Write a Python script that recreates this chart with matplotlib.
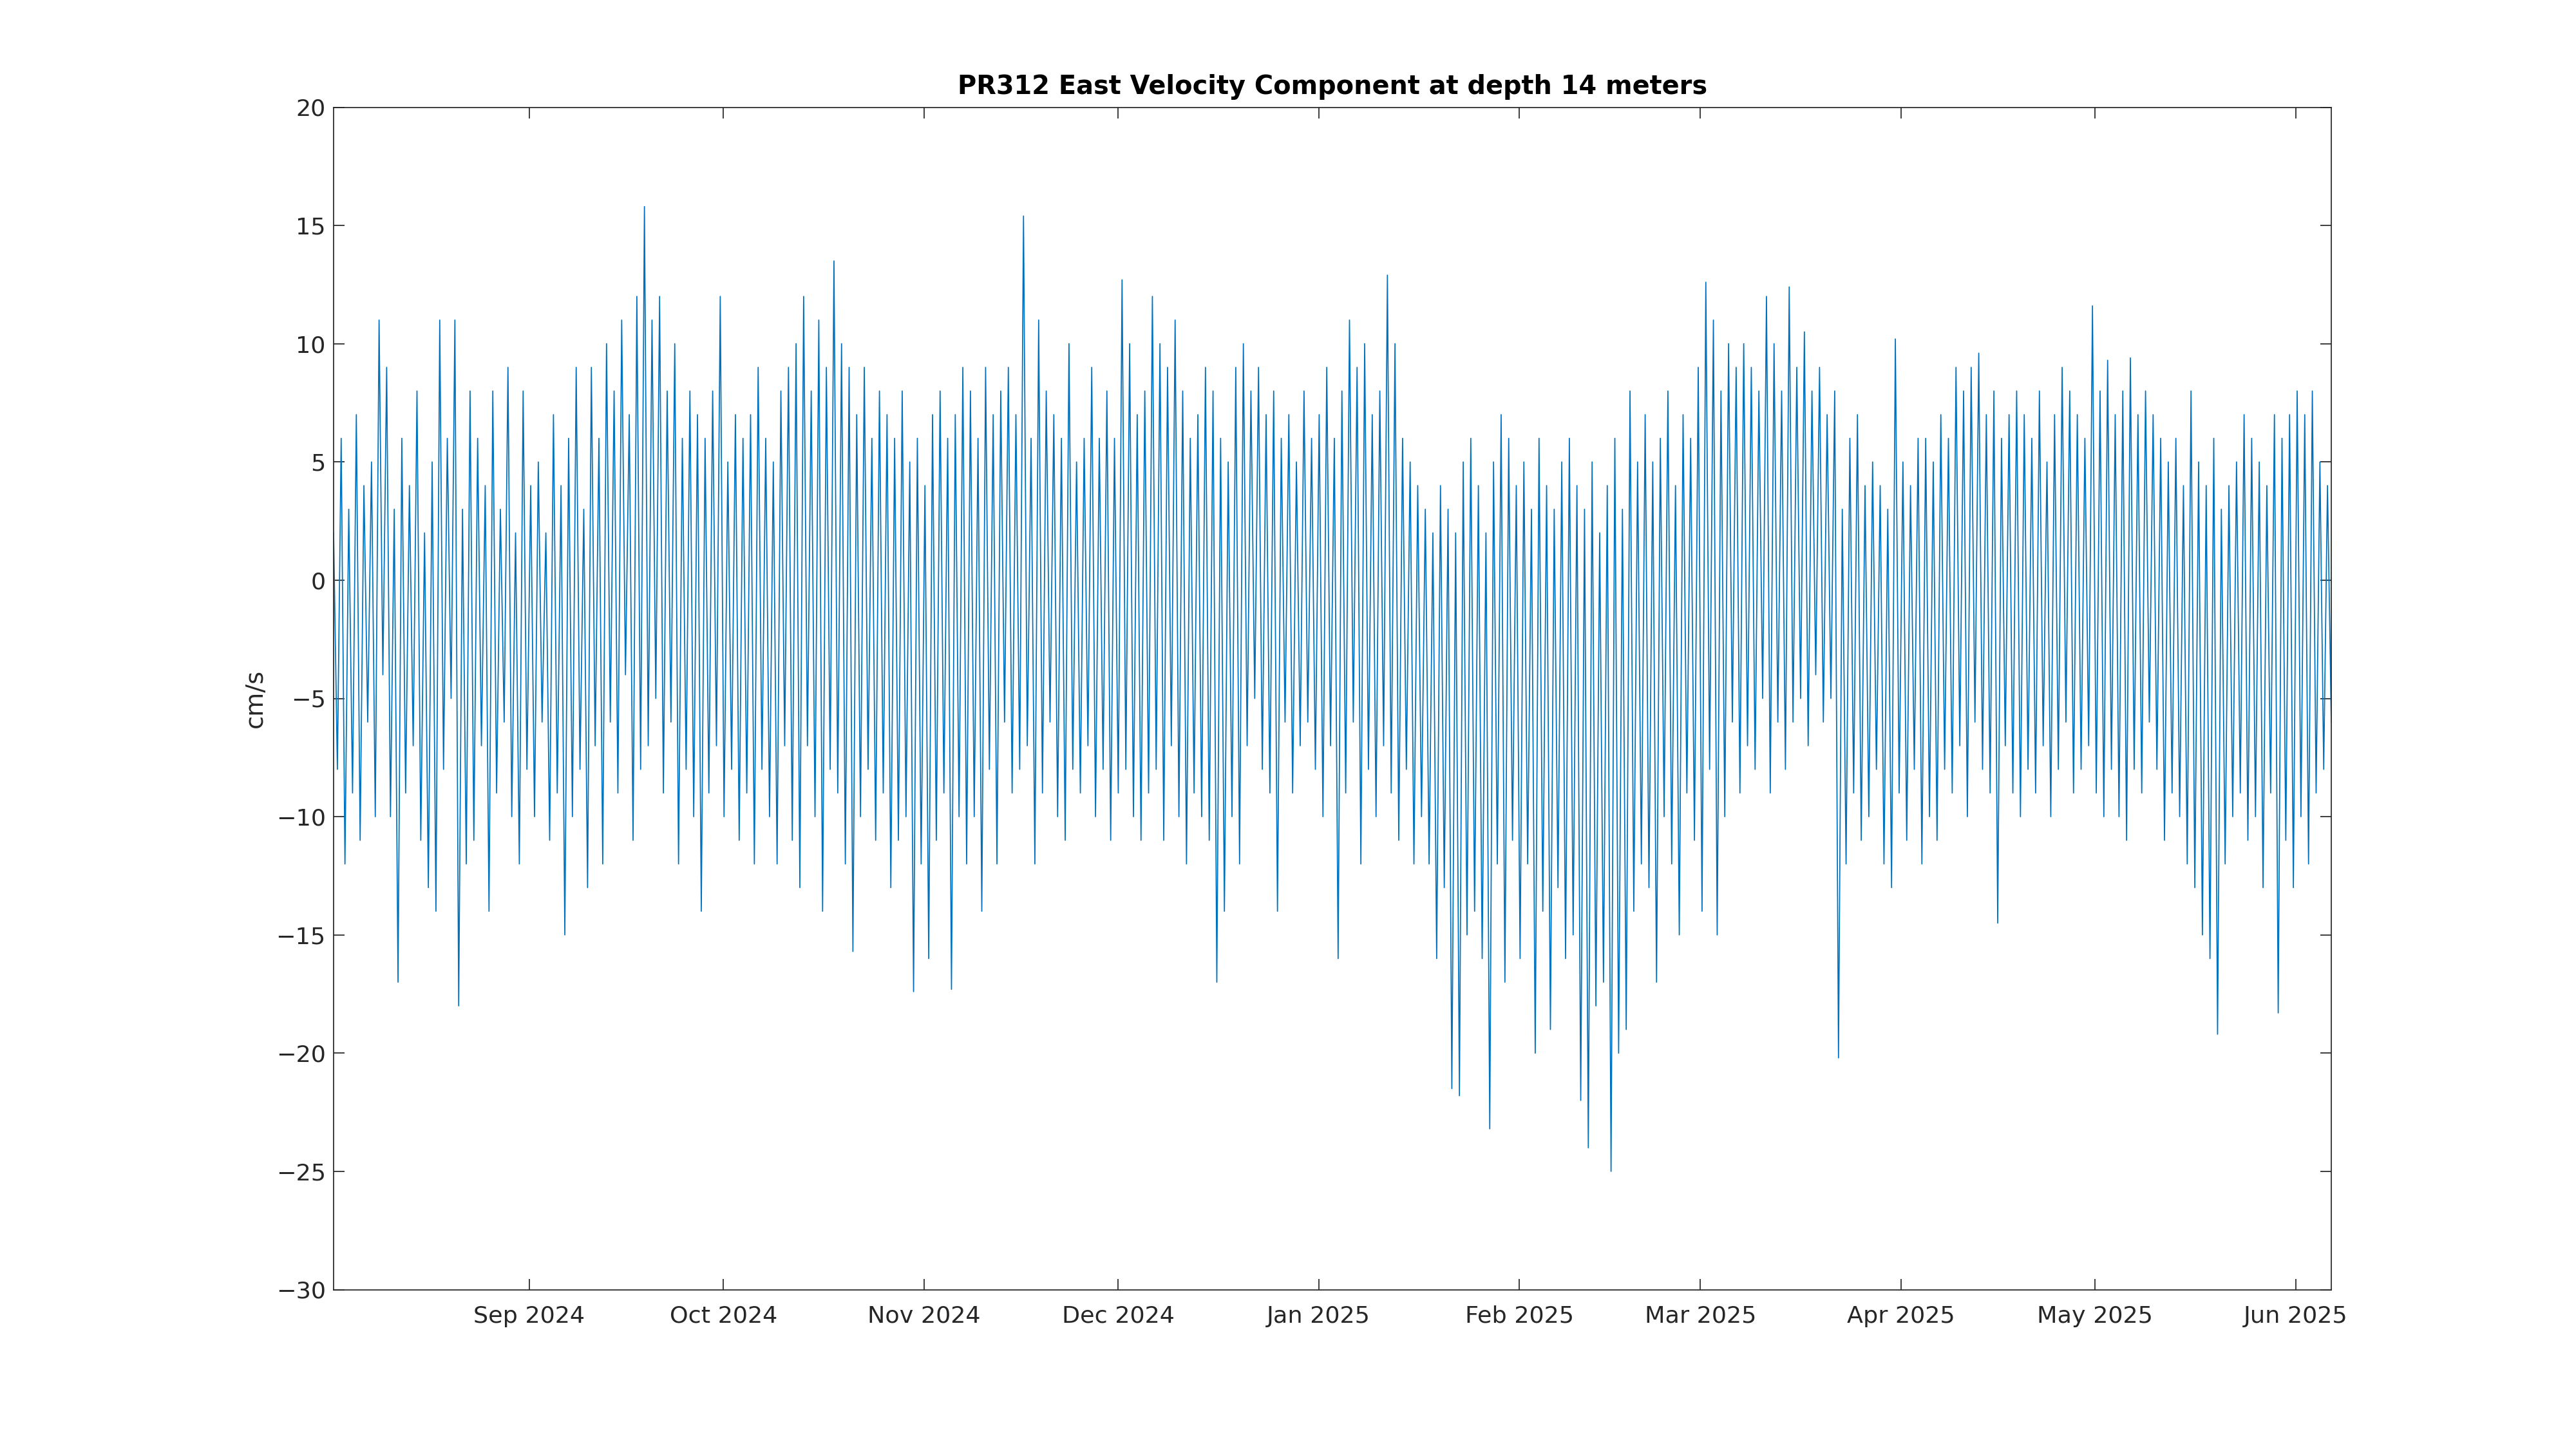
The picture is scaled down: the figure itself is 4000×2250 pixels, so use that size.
import numpy as np
import pandas as pd
import matplotlib
matplotlib.use("Agg")
import matplotlib.pyplot as plt

# weekly blocks of east velocity (cm/s)
weeks = [
    [2, -8, 6, -12, 3, -9, 7, -11, 4, -6, 5, -10],
    [11, -4, 9, -10, 3, -17, 6, -9, 4, -7, 8, -11],
    [2, -13, 5, -14, 11, -8, 6, -5, 11, -18, 3, -12],
    [8, -11, 6, -7, 4, -14, 8, -9, 3, -6, 9, -10],
    [2, -12, 8, -8, 4, -10, 5, -6, 2, -11, 7, -9],
    [4, -15, 6, -10, 9, -8, 3, -13, 9, -7, 6, -12],
    [10, -6, 8, -9, 11, -4, 7, -11, 12, -8, 15.8, -7],
    [11, -5, 12, -9, 8, -6, 10, -12, 6, -8, 8, -10],
    [7, -14, 6, -9, 8, -7, 12, -10, 5, -8, 7, -11],
    [6, -9, 7, -12, 9, -8, 6, -10, 5, -12, 8, -7],
    [9, -11, 10, -13, 12, -7, 8, -10, 11, -14, 9, -8],
    [13.5, -9, 10, -12, 9, -15.7, 7, -10, 9, -8, 6, -11],
    [8, -9, 7, -13, 6, -11, 8, -10, 5, -17.4, 6, -12],
    [4, -16, 7, -11, 8, -9, 6, -17.3, 7, -10, 9, -12],
    [8, -10, 6, -14, 9, -8, 7, -12, 8, -6, 9, -9],
    [7, -8, 15.4, -7, 6, -12, 11, -9, 8, -6, 7, -10],
    [6, -11, 10, -8, 5, -9, 6, -7, 9, -10, 6, -8],
    [8, -11, 6, -9, 12.7, -8, 10, -10, 7, -11, 8, -9],
    [12, -8, 10, -11, 9, -7, 11, -10, 8, -12, 6, -9],
    [7, -10, 9, -11, 8, -17, 6, -14, 5, -10, 9, -12],
    [10, -7, 8, -5, 9, -8, 7, -9, 8, -14, 6, -6],
    [7, -9, 5, -7, 8, -6, 6, -8, 7, -10, 9, -7],
    [6, -16, 8, -9, 11, -6, 9, -12, 10, -8, 7, -10],
    [8, -7, 12.9, -9, 10, -11, 6, -8, 5, -12, 4, -10],
    [3, -12, 2, -16, 4, -13, 3, -21.5, 2, -21.8, 5, -15],
    [6, -14, 4, -16, 2, -23.2, 5, -12, 7, -17, 6, -11],
    [4, -16, 5, -12, 3, -20, 6, -14, 4, -19, 3, -13],
    [5, -16, 6, -15, 4, -22, 3, -24, 5, -18, 2, -17],
    [4, -25, 6, -20, 3, -19, 8, -14, 5, -12, 7, -13],
    [5, -17, 6, -10, 8, -12, 4, -15, 7, -9, 6, -11],
    [9, -14, 12.6, -8, 11, -15, 8, -10, 10, -6, 9, -9],
    [10, -7, 9, -8, 8, -5, 12, -9, 10, -6, 8, -8],
    [12.4, -6, 9, -5, 10.5, -7, 8, -4, 9, -6, 7, -5],
    [8, -20.2, 3, -12, 6, -9, 7, -11, 4, -10, 5, -8],
    [4, -12, 3, -13, 10.2, -9, 5, -11, 4, -8, 6, -12],
    [6, -10, 5, -11, 7, -8, 6, -9, 9, -7, 8, -10],
    [9, -6, 9.6, -8, 7, -9, 8, -14.5, 6, -7, 7, -9],
    [8, -10, 7, -8, 6, -9, 8, -7, 5, -10, 7, -8],
    [9, -6, 8, -9, 7, -8, 6, -7, 11.6, -9, 8, -10],
    [9.3, -8, 7, -10, 8, -11, 9.4, -8, 7, -9, 8, -6],
    [7, -8, 6, -11, 5, -9, 6, -10, 4, -12, 8, -13],
    [5, -15, 4, -16, 6, -19.2, 3, -12, 4, -10, 5, -9],
    [7, -11, 6, -10, 5, -13, 4, -9, 7, -18.3, 6, -11],
    [7, -13, 8, -10, 7, -12, 8, -9, 5, -8, 4, -6],
]
velocity = np.concatenate([np.array(w, dtype=float) for w in weeks])
start, end = pd.Timestamp("2024-08-01 18:00"), pd.Timestamp("2025-06-06 12:00")
times = pd.date_range(start, end, periods=len(velocity))

fig = plt.figure(figsize=(16, 9), dpi=250)
ax = fig.add_axes([0.1295, 0.11, 0.7755, 0.816])
ax.plot(times, velocity, color="#0072BD", linewidth=0.5)

ax.set_xlim(start, end)
ax.set_ylim(-30, 20)
ax.set_yticks(np.arange(-30, 21, 5))
ticks = list(pd.date_range("2024-09-01", "2025-06-01", freq="MS"))
ax.set_xticks(ticks)
ax.set_xticklabels([t.strftime("%b %Y") for t in ticks])
ax.tick_params(direction="in", top=True, right=True, labelsize=10.5,
               colors="#262626", length=5, width=0.5)
ax.tick_params(axis="x", pad=7)
for s in ax.spines.values():
    s.set_linewidth(0.5)
    s.set_color("#262626")
ax.set_ylabel("cm/s", fontsize=11, color="#262626")
ax.set_title("PR312 East Velocity Component at depth 14 meters",
             fontsize=11.5, fontweight="bold")

fig.savefig("out.png")
